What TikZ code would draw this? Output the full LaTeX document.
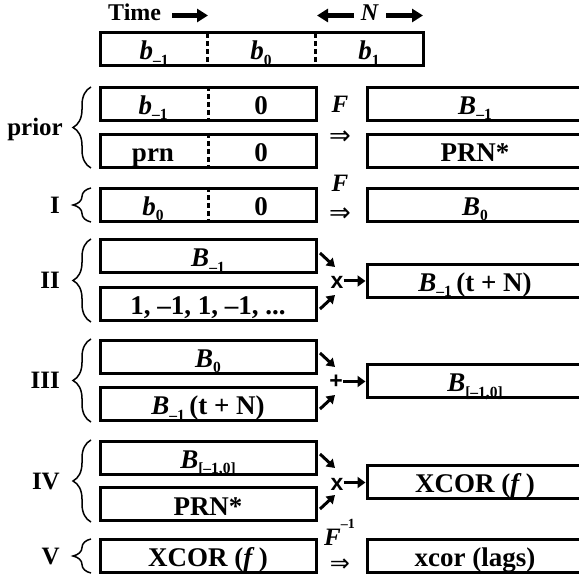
\documentclass[tikz,border=0pt]{standalone}
\usepackage{fontspec}
\setmainfont{Liberation Serif}
\newfontfamily\opfont{Liberation Sans}
\newfontfamily\arrfont{DejaVu Sans}
\usetikzlibrary{arrows.meta,decorations.pathreplacing}
\newcommand\dn[1]{\raisebox{-0.2em}{\fontsize{15.5}{15.5}\selectfont #1}}
\newcommand\upx[1]{\raisebox{0.7em}{\fontsize{14}{14}\selectfont #1}}
\newcommand\bxf{\fontsize{27}{30}\selectfont\bfseries}
\newcommand\opf{\fontsize{23}{25}\selectfont\opfont\bfseries}
\newcommand\impf{\fontsize{26}{26}\selectfont\arrfont}
\begin{document}
\begin{tikzpicture}[x=1pt,y=-1pt,
  box/.style={draw, line width=3pt, inner sep=0pt, minimum height=33pt, text height=22.5pt, text depth=1.5pt, font=\bxf},
  lbox/.style={box, minimum width=216pt},
  rbox/.style={box, minimum width=216pt},
  bt/.style={inner sep=0pt, text height=22.5pt, text depth=1.5pt, font=\bxf},
  lab/.style={anchor=base east, inner sep=0pt, font=\fontsize{25}{30}\selectfont\bfseries},
  hdr/.style={inner sep=0pt, font=\fontsize{24}{28}\selectfont\bfseries},
  brc/.style={decorate, decoration={brace, amplitude=18pt}, line width=1.5pt},
  divider/.style={line width=3pt, dash pattern=on 5pt off 3pt},
  opn/.style={inner sep=0pt, font=\opf},
  toarrow/.style={line width=3pt, -{Triangle[length=8pt,width=11pt]}},
  diag/.style={line width=3pt, -{Triangle[length=8pt,width=10pt]}},
  bigarrow/.style={line width=4.5pt, -{Triangle[length=11pt,width=13pt]}},
  fl/.style={anchor=base, inner sep=0pt, font=\fontsize{25}{30}\selectfont\bfseries\itshape},
  impl/.style={inner sep=0pt, font=\impf}
]
\useasboundingbox (0,0) rectangle (579,577);
\clip (0,0) rectangle (579,577);

% header
\node[hdr, anchor=base west] (time) at (108,21) {Time};
\coordinate (ta) at (172,15.5); \coordinate (tb) at (208,15.5);
\draw[bigarrow] (ta) -- (tb);
\node[hdr, anchor=base] (N) at (370,21) {\textit{N}};
\coordinate (nla) at (354,15.5); \coordinate (nlb) at (317,15.5);
\coordinate (nra) at (386,15.5); \coordinate (nrb) at (423,15.5);
\draw[bigarrow] (nla) -- (nlb);
\draw[bigarrow] (nra) -- (nrb);

% top bar
\node[box, minimum width=323pt] (bar) at (261.5,49.5) {};
\draw[divider] (207.5,33) -- (207.5,66);
\draw[divider] (315,33) -- (315,66);
\node[bt] (bm1) at (154,49.5) {\textit{b}\dn{–1}};
\node[bt] (b0) at (261,49.5) {\textit{b}\dn{0}};
\node[bt] (bp1) at (369,49.5) {\textit{b}\dn{1}};

% prior
\node[lbox] (p1) at (208,104) {};
\draw[divider] (p1.north) -- (p1.south);
\node[bt] (p1a) at (153,104) {\textit{b}\dn{–1}};
\node[bt] (p1b) at (261,104) {0};
\node[lbox] (p2) at (208,151) {};
\draw[divider] (p2.north) -- (p2.south);
\node[bt] (p2a) at (153,151) {prn};
\node[bt] (p2b) at (261,151) {0};
\node[rbox] (P1) at (475,104) {\textit{B}\dn{–1}};
\node[rbox] (P2) at (475,151) {PRN*};
\node[fl] (Fp) at (340,113) {F};
\node[impl] (ip) at (340,138) {⇒};
\draw[brc] (91,168) -- (91,87);
\node[lab] (Lp) at (63,136) {prior};

% I
\node[lbox] (i1) at (208,205) {};
\draw[divider] (i1.north) -- (i1.south);
\node[bt] (i1a) at (153,205) {\textit{b}\dn{0}};
\node[bt] (i1b) at (261,205) {0};
\node[rbox] (IR) at (475,205) {\textit{B}\dn{0}};
\node[fl] (Fi) at (340,192) {F};
\node[impl] (ii) at (340,215) {⇒};
\draw[brc] (91,222) -- (91,188);
\node[lab] (Li) at (60,213.5) {I};

% II
\node[lbox] (ii1) at (208,256.5) {\textit{B}\dn{–1}};
\node[lbox] (ii2) at (208,304.5) {1, –1, 1, –1, ...};
\node[rbox] (IIR) at (475,281) {\textit{B}\dn{–1}\,(t + N)};
\node[opn] (x2) at (337,282.5) {x};
\draw[toarrow] (x2.east |- IIR.west) -- (IIR.west);
\coordinate (d2a) at (320,253); \coordinate (d2b) at (335,267);
\coordinate (u2a) at (320,309); \coordinate (u2b) at (335,295);
\draw[diag] (d2a) -- (d2b);
\draw[diag] (u2a) -- (u2b);
\draw[brc] (91,322) -- (91,239);
\node[lab] (Lii) at (60,289) {II};

% III
\node[lbox] (iii1) at (208,357) {\textit{B}\dn{0}};
\node[lbox] (iii2) at (208,404.5) {\textit{B}\dn{–1}\,(t + N)};
\node[rbox] (IIIR) at (475,381.5) {\textit{B}\dn{[–1,0]}};
\node[opn] (x3) at (336,382) {+};
\draw[toarrow] (x3.east |- IIIR.west) -- (IIIR.west);
\coordinate (d3a) at (320,353); \coordinate (d3b) at (335,367);
\coordinate (u3a) at (320,409); \coordinate (u3b) at (335,395);
\draw[diag] (d3a) -- (d3b);
\draw[diag] (u3a) -- (u3b);
\draw[brc] (91,422) -- (91,339);
\node[lab] (Liii) at (60,389) {III};

% IV
\node[lbox] (iv1) at (208,458) {\textit{B}\dn{[–1,0]}};
\node[lbox] (iv2) at (208,504.5) {PRN*};
\node[rbox] (IVR) at (475,482.5) {XCOR (\textit{f}\,)};
\node[opn] (x4) at (337,484) {x};
\draw[toarrow] (x4.east |- IVR.west) -- (IVR.west);
\coordinate (d4a) at (320,454); \coordinate (d4b) at (335,468);
\coordinate (u4a) at (320,509); \coordinate (u4b) at (335,495);
\draw[diag] (d4a) -- (d4b);
\draw[diag] (u4a) -- (u4b);
\draw[brc] (91,522) -- (91,440);
\node[lab] (Liv) at (60,489.5) {IV};

% V
\node[lbox] (v1) at (208,556) {XCOR (\textit{f}\,)};
\node[rbox] (VR) at (475,556) {xcor (lags)};
\node[fl, anchor=base west] (Fv) at (324,546) {F\upx{\upshape –1}};
\node[impl, font=\fontsize{24}{24}\selectfont\arrfont] (iv) at (340,565) {⇒};
\draw[brc] (91,573) -- (91,539);
\node[lab] (Lv) at (60,564.5) {V};
\end{tikzpicture}
\end{document}
